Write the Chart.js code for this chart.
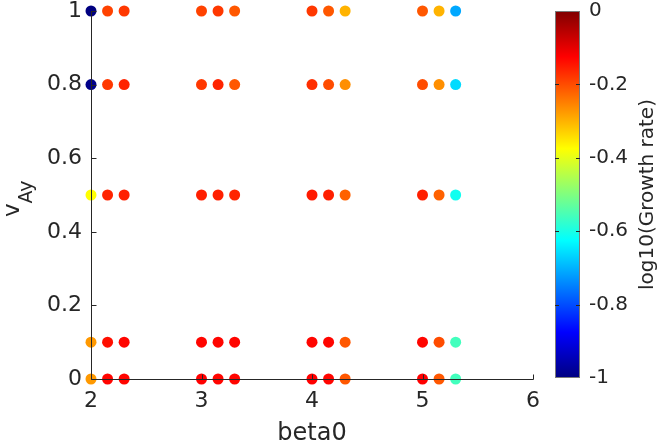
<!DOCTYPE html>
<html>
<head>
<meta charset="utf-8">
<script src="https://cdn.jsdelivr.net/npm/chart.js@4.4.0/dist/chart.umd.min.js"></script>
<style>
  body { margin: 0; background: #fff; }
  #wrap { position: relative; width: 658px; height: 448px; }
  canvas { position: absolute; left: 0; top: 0; }
</style>
</head>
<body>
<div id="wrap">
  <canvas id="main" width="658" height="448"></canvas>
  <canvas id="cbar" width="658" height="448"></canvas>
</div>
<script>
// beta0 positions (x) and v_Ay rows (y)
const betaValues = [2, 2.15, 2.3, 3, 3.15, 3.3, 4, 4.15, 4.3, 5, 5.15, 5.3];
const vAyValues = [0, 0.1, 0.5, 0.8, 1];

// log10(growth rate), one array per v_Ay row
const growthAt0   = [-0.275, -0.13, -0.13, -0.125, -0.13, -0.13, -0.125, -0.13, -0.21, -0.125, -0.21, -0.56];
const growthAt01  = [-0.275, -0.14, -0.13, -0.13, -0.13, -0.13, -0.13, -0.13, -0.21, -0.13, -0.20, -0.56];
const growthAt05  = [-0.375, -0.16, -0.155, -0.155, -0.155, -0.16, -0.15, -0.155, -0.22, -0.155, -0.22, -0.61];
const growthAt08  = [-0.99, -0.18, -0.16, -0.18, -0.16, -0.21, -0.17, -0.20, -0.265, -0.20, -0.265, -0.66];
const growthAt1   = [-1.0, -0.19, -0.18, -0.19, -0.18, -0.21, -0.18, -0.21, -0.30, -0.21, -0.30, -0.71];
const growthRows = [growthAt0, growthAt01, growthAt05, growthAt08, growthAt1];

const xTicks = [2, 3, 4, 5, 6];
const yTicks = [0, 0.2, 0.4, 0.6, 0.8, 1];
const cbarTicks = [-1, -0.8, -0.6, -0.4, -0.2, 0];

const FONT = 'DejaVu Sans';
const TXT = '#262626';
const fmt = v => String(Math.round(v * 10) / 10);

// matlab jet, v in [-1, 0]
function jet(v) {
  const t = v + 1;
  const c = x => Math.round(255 * Math.max(0, Math.min(1, x)));
  const r = c(Math.min(4 * t - 1.5, -4 * t + 4.5));
  const g = c(Math.min(4 * t - 0.5, -4 * t + 3.5));
  const b = c(Math.min(4 * t + 0.5, -4 * t + 2.5));
  return `rgb(${r},${g},${b})`;
}

const datasets = vAyValues.map((y, i) => ({
  data: betaValues.map(x => ({ x: x, y: y })),
  pointBackgroundColor: growthRows[i].map(jet),
  pointBorderWidth: 0,
  pointRadius: 5.5,
  clip: false
}));

// axes on top of the dots, with inward ticks like matlab
const axesOnTop = {
  id: 'axesOnTop',
  afterDatasetsDraw(chart) {
    const { ctx, chartArea: a, scales } = chart;
    ctx.save();
    ctx.strokeStyle = TXT;
    ctx.lineWidth = 1;
    const lx = Math.round(a.left) + 0.5;
    const by = Math.round(a.bottom) + 0.5;
    ctx.beginPath();
    ctx.moveTo(lx, Math.round(a.top));
    ctx.lineTo(lx, by);
    ctx.lineTo(Math.round(a.right) + 0.5, by);
    xTicks.forEach(v => {
      const px = Math.round(scales.x.getPixelForValue(v)) + 0.5;
      ctx.moveTo(px, by);
      ctx.lineTo(px, by - 5);
    });
    yTicks.forEach(v => {
      const py = Math.round(scales.y.getPixelForValue(v)) + 0.5;
      ctx.moveTo(lx, py);
      ctx.lineTo(lx + 5, py);
    });
    ctx.stroke();
    ctx.restore();
  },
  afterDraw(chart) {
    // y title: v with subscript Ay
    const ctx = chart.ctx;
    ctx.save();
    ctx.fillStyle = TXT;
    ctx.translate(19, 217);
    ctx.rotate(-Math.PI / 2);
    ctx.textBaseline = 'alphabetic';
    ctx.font = `23px "${FONT}"`;
    ctx.fillText('v', 0, 0);
    const vw = ctx.measureText('v').width;
    ctx.font = `19px "${FONT}"`;
    ctx.fillText('Ay', vw, 13);
    ctx.restore();
  }
};

new Chart(document.getElementById('main'), {
  type: 'scatter',
  data: { datasets: datasets },
  options: {
    responsive: false,
    animation: false,
    devicePixelRatio: 1,
    layout: { padding: { left: 0, top: 11, right: 125, bottom: 0 } },
    plugins: { legend: { display: false }, tooltip: { enabled: false } },
    scales: {
      x: {
        type: 'linear', min: 2, max: 6,
        afterBuildTicks: s => { s.ticks = xTicks.map(v => ({ value: v })); },
        ticks: { font: { family: FONT, size: 22 }, color: TXT, padding: 9, callback: fmt },
        grid: { display: false, drawTicks: false },
        border: { display: false },
        title: { display: true, text: 'beta0', color: TXT, font: { family: FONT, size: 24 }, padding: { top: 0, bottom: 0 } },
        afterFit: s => { s.height = 69; s.paddingLeft = 0; s.paddingRight = 0; }
      },
      y: {
        type: 'linear', min: 0, max: 1,
        afterBuildTicks: s => { s.ticks = yTicks.map(v => ({ value: v })); },
        ticks: { font: { family: FONT, size: 22 }, color: TXT, padding: 9, callback: fmt },
        grid: { display: false, drawTicks: false },
        border: { display: false },
        afterFit: s => { s.width = 91; s.paddingTop = 0; s.paddingBottom = 0; }
      }
    }
  },
  plugins: [axesOnTop]
});

// colorbar
const jetStops = [[0, '#000080'], [0.125, '#0000ff'], [0.375, '#00ffff'], [0.625, '#ffff00'], [0.875, '#ff0000'], [1, '#800000']];

const colorbar = {
  id: 'colorbar',
  beforeDatasetsDraw(chart) {
    const { ctx, chartArea: a, scales } = chart;
    ctx.save();
    const g = ctx.createLinearGradient(0, a.bottom, 0, a.top);
    jetStops.forEach(s => g.addColorStop(s[0], s[1]));
    ctx.fillStyle = g;
    ctx.fillRect(a.left, a.top, a.right - a.left, a.bottom - a.top);
    ctx.strokeStyle = '#7a7a7a';
    ctx.lineWidth = 1;
    ctx.strokeRect(a.left + 0.5, a.top + 0.5, a.right - a.left - 1, a.bottom - a.top - 1);
    ctx.strokeStyle = '#262626';
    ctx.beginPath();
    cbarTicks.slice(1, -1).forEach(v => {
      const py = Math.round(scales.y.getPixelForValue(v)) + 0.5;
      ctx.moveTo(a.left, py); ctx.lineTo(a.left + 4, py);
      ctx.moveTo(a.right, py); ctx.lineTo(a.right - 4, py);
    });
    ctx.stroke();
    // colorbar label
    ctx.fillStyle = TXT;
    ctx.font = `20px "${FONT}"`;
    ctx.textAlign = 'center';
    ctx.textBaseline = 'middle';
    ctx.translate(648, (a.top + a.bottom) / 2);
    ctx.rotate(-Math.PI / 2);
    ctx.fillText('log10(Growth rate)', 0, 0);
    ctx.restore();
  }
};

new Chart(document.getElementById('cbar'), {
  type: 'scatter',
  data: { datasets: [] },
  options: {
    responsive: false,
    animation: false,
    devicePixelRatio: 1,
    layout: { padding: { left: 555, top: 11, right: 0, bottom: 70 } },
    plugins: { legend: { display: false }, tooltip: { enabled: false } },
    scales: {
      x: { display: false, min: 0, max: 1 },
      y: {
        position: 'right', min: -1, max: 0,
        afterBuildTicks: s => { s.ticks = cbarTicks.map(v => ({ value: v })); },
        ticks: { font: { family: FONT, size: 20 }, color: TXT, padding: 9, callback: fmt },
        grid: { display: false, drawTicks: false },
        border: { display: false },
        afterFit: s => { s.width = 78; s.paddingTop = 0; s.paddingBottom = 0; }
      }
    }
  },
  plugins: [colorbar]
});
</script>
</body>
</html>
